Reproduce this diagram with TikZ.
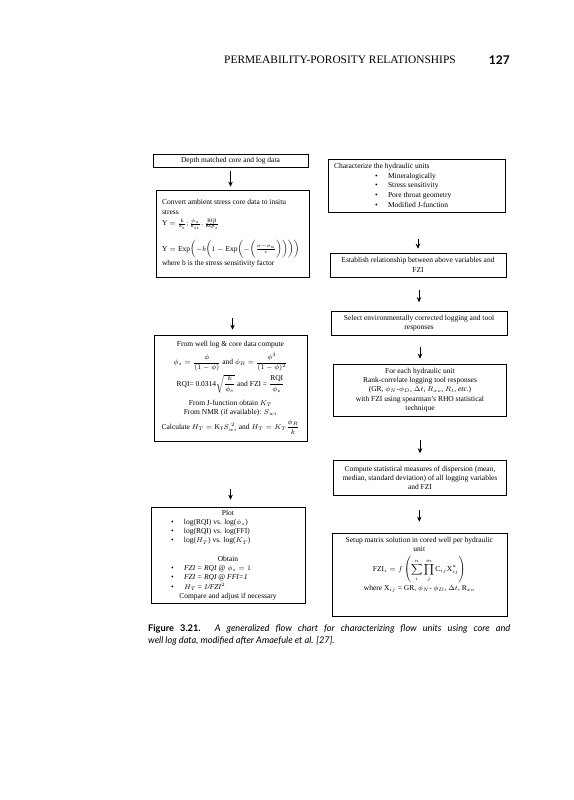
\documentclass[tikz,border=0pt]{standalone}
\usepackage{amsmath,amssymb}
\usepackage{fontspec}
\setmainfont{Liberation Serif}
\newfontfamily\captionfont{Lato}
\usetikzlibrary{positioning,arrows.meta}

\tikzset{
  box/.style={draw, line width=0.6pt, inner xsep=0pt, inner ysep=2pt, align=flush center,
    font=\fontsize{7.5}{9.3}\selectfont},
  flow/.style={-{Stealth[length=5pt,width=4.5pt]}, line width=0.7pt},
}
\newcommand{\blt}[3]{\makebox[#1][l]{\hspace*{#2}\makebox[13pt][l]{\textbullet}#3}}

\begin{document}
\begin{tikzpicture}[x=1pt, y=-1pt]
  \fill[white] (0,0) rectangle (573,800);
  \useasboundingbox (0,0) rectangle (573,800);

  % Page head
  \node[anchor=west, inner sep=0pt, font=\fontsize{11.4}{12}\selectfont] (head) at (224,60) {PERMEABILITY-POROSITY RELATIONSHIPS};
  \node[anchor=east, inner sep=0pt, font=\captionfont\bfseries\fontsize{12}{14}\selectfont] (page) at (510,60) {127};

  % Left column: core data
  \node[box, text width=155pt, minimum height=13pt] (L1) at (230.5,160.5) {Depth matched core and log data};

  \node[box, text width=141pt, inner xsep=6pt, align=flush left, minimum height=87pt] (L2) at (232.5,233.5) {%
    Convert ambient stress core data to insitu\\
    stress\\[2pt]
    $\mathrm{Y}=\frac{\mathrm{k}}{\mathrm{k}_i};\frac{\phi_z}{\mathrm{k}_{ii}},\frac{\mathrm{RQI}}{\mathrm{RQI}_i}$\\[10pt]
    $\mathrm{Y}=\mathrm{Exp}\biggl(-b\biggl(1-\mathrm{Exp}\biggl(-\biggl(\frac{\sigma-\sigma_a}{c}\biggr)\biggr)\biggr)\biggr)$\\[1pt]
    where b is the stress sensitivity factor};

  \node[box, text width=153pt, minimum height=106pt] (L3) at (230.5,388) {%
    From well log \& core data compute\\[4pt]
    $\phi_z=\dfrac{\phi}{(1-\phi)}$ and $\phi_R=\dfrac{\phi^3}{(1-\phi)^2}$\\[2pt]
    RQI= 0.0314$\sqrt{\dfrac{k}{\phi_e}}$ and FZI = $\dfrac{\mathrm{RQI}}{\phi_z}$\\[6pt]
    From J-function obtain $K_T$\\
    From NMR (if available): $S_{wi}$\\[2pt]
    Calculate $H_T=\mathrm{K_T}S_{wi}^{\;2}$ and $H_T=K_T\dfrac{\phi_R}{k}$};

  \node[box, text width=154pt, minimum height=96pt] (L4) at (228,555) {%
    Plot\\
    \blt{154pt}{20pt}{log(RQI) vs. log($\phi_z$)}\\
    \blt{154pt}{20pt}{log(RQI) vs. log(FFI)}\\
    \blt{154pt}{20pt}{log($H_T$) vs. log($K_T$)}\\[9pt]
    Obtain\\
    \blt{154pt}{20pt}{\textit{FZI = RQI} @ $\phi_z=1$}\\
    \blt{154pt}{20pt}{\textit{FZI = RQI @ FFI=1}}\\
    \blt{154pt}{20pt}{$H_T$ = \textit{1/FZI}$^2$}\\
    Compare and adjust if necessary};

  % Right column: log data
  \node[box, text width=165pt, inner xsep=6pt, align=flush left, minimum height=53pt, font=\fontsize{7.5}{9.6}\selectfont] (R1) at (416.5,185.3) {%
    Characterize the hydraulic units\\
    \blt{165pt}{41pt}{Mineralogically}\\
    \blt{165pt}{41pt}{Stress sensitivity}\\
    \blt{165pt}{41pt}{Pore throat geometry}\\
    \blt{165pt}{41pt}{Modified J-function}};

  \node[box, text width=176pt, minimum height=24pt] (R2) at (418,265) {Establish relationship between above variables and\\FZI};
  \node[box, text width=176pt, minimum height=24pt] (R3) at (419,323.5) {Select environmentally corrected logging and tool\\responses};

  \node[box, text width=173pt, minimum height=52pt] (R4) at (420,390) {%
    For each hydraulic unit\\
    Rank-correlate logging tool responses\\
    (GR, $\phi_N$-$\phi_D$, $\Delta t$, $R_{xo}$, $R_t$, \textit{etc.})\\
    with FZI using spearman's RHO statistical\\
    technique};

  \node[box, text width=173pt, minimum height=35pt] (R5) at (420,478) {%
    Compute statistical measures of dispersion (mean,\\
    median, standard deviation) of all logging variables\\
    and FZI};

  \node[box, text width=175pt, minimum height=83pt] (R6) at (419.3,574.5) {%
    Setup matrix solution in cored well per hydraulic\\
    unit\\[3pt]
    $\mathrm{FZI}_i=f\left(\displaystyle\sum_{i}^{n}\prod_{j}^{m}\mathrm{C}_{ij}\mathrm{X}_{ij}^{a}\right)$\\[1pt]
    where $\mathrm{X}_{ij}$ = GR, $\phi_N$- $\phi_D$, $\Delta t$, $\mathrm{R}_{xo}$\\[12pt]
    \mbox{}};

  % Arrows
  \draw[flow, shorten <=4pt, shorten >=3pt] (L1.south) -- (L1.south |- L2.north);
  \draw[flow, shorten <=41pt, shorten >=5pt] (L2.south) -- (L2.south |- L3.north);
  \draw[flow, shorten <=48pt, shorten >=7pt] (L3.south) -- (L3.south |- L4.north);
  \draw[flow, shorten <=27pt, shorten >=4pt] (R1.south -| R2.north) -- (R2.north);
  \draw[flow, shorten <=13pt, shorten >=9pt] (R2.south -| R3.north) -- (R3.north);
  \draw[flow, shorten <=11pt, shorten >=5pt] (R3.south -| R4.north) -- (R4.north);
  \draw[flow, shorten <=24pt, shorten >=7pt] (R4.south -| R5.north) -- (R5.north);
  \draw[flow, shorten <=14pt, shorten >=11pt] (R5.south -| R6.north) -- (R6.north);

  % Caption
  \node[anchor=north west, align=flush left, inner sep=0pt, font=\captionfont\itshape\fontsize{9.2}{12}\selectfont] (cap) at (148,624) {%
    \makebox[362pt][s]{\textbf{\upshape Figure 3.21.} A generalized flow chart for characterizing flow units using core and}\\
    well log data, modified after Amaefule et al. [27].};
\end{tikzpicture}
\end{document}
